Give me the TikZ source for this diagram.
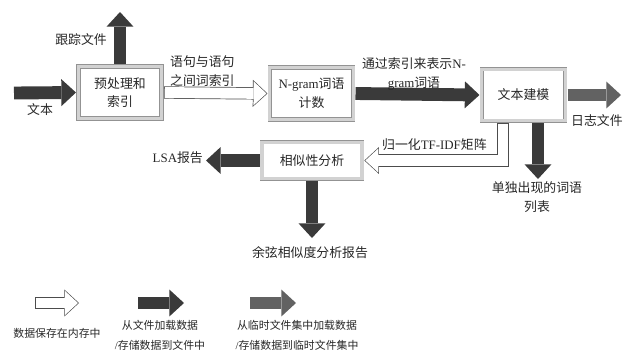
\documentclass[tikz,border=0pt]{standalone}
\usepackage{fontspec}
\setmainfont{Liberation Serif}
\newfontfamily\zhfont{Noto Sans CJK SC}
\newcommand{\en}[1]{{\rmfamily #1}}
\usetikzlibrary{arrows.meta,backgrounds,calc}
\definecolor{filegray}{HTML}{3A3A3A}
\definecolor{tempgray}{HTML}{626262}
\definecolor{textgray}{HTML}{262626}

\tikzset{
  every node/.style={text=textgray, font=\zhfont\fontsize{11}{16}\selectfont},
  legendtext/.style={font=\zhfont\fontsize{9.3}{17}\selectfont},
  procbox/.style={draw=gray!85, double=gray!35, double distance=2.6pt, line width=0.6pt,
    fill=white, minimum width=2.5cm, minimum height=1.55cm, align=center, outer sep=2pt},
  filearrow/.style={draw=filegray, line width=11pt, -{Triangle[width=23pt,length=12.5pt,line width=0pt]}},
  temparrow/.style={filearrow, draw=tempgray},
  memarrow/.style={draw=black!70, line width=10.5pt, -{Triangle[width=23pt,length=12.5pt,line width=0pt]}},
  memarrowin/.style={draw=white, line width=9.3pt, shorten >=0.87pt, shorten <=0.6pt,
    -{Triangle[width=20.4pt,length=11pt,line width=0pt]}}
}

\begin{document}
\begin{tikzpicture}[x=0.03cm, y=-0.03cm]
  \useasboundingbox (0,0) rectangle (632,356);

  % processing steps
  \node[procbox] (pre) at (120,92.5) {预处理和\\索引};
  \node[procbox] (ngram) at (311.5,93.5) {\en{N-gram}词语\\计数};
  \node[procbox] (model) at (523.5,95) {文本建模};
  \node[procbox, minimum width=3cm, minimum height=1.1cm] (sim) at (312,160.5) {相似性分析};

  % labels
  \node[anchor=east] (tracelbl) at (111,40) {跟踪文件};
  \node (textlbl) at (40,110) {文本};
  \node[anchor=west, align=left] (idxlbl) at (166,71) {语句与语句\\之间词索引};
  \node[align=center] (reprlbl) at (414,74) {通过索引来表示\en{N-}\\\en{gram}词语};
  \node[anchor=west] (loglbl) at (567,121) {日志文件};
  \node[anchor=west] (normlbl) at (378,145) {归一化\en{TF-IDF}矩阵};
  \node[align=center] (uniqlbl) at (537,197) {单独出现的词语\\列表};
  \node[anchor=east] (lsalbl) at (207,158) {\en{LSA}报告};
  \node (coslbl) at (310,253) {余弦相似度分析报告};

  % legend
  \node[legendtext] (memlbl) at (57,333) {数据保存在内存中};
  \node[legendtext, align=center] (filelbl) at (160,335) {从文件加载数据\\\en{/}存储数据到文件中};
  \node[legendtext, align=center] (templbl) at (297,335) {从临时文件集中加载数据\\\en{/}存储数据到临时文件集中};

  \coordinate (textin) at (14,93);
  \coordinate (traceend) at (120,12);
  \coordinate (logend) at (621,95);
  \coordinate (uniqend) at (538,179);
  \path (model.south) ++(-20.5,0) coordinate (normstart);
  \coordinate (lsaend) at (206,160.5);
  \coordinate (cosend) at (312,238);
  \coordinate (mema) at (35,303);
  \coordinate (memb) at (79,303);
  \coordinate (filea) at (138,303);
  \coordinate (fileb) at (184,303);
  \coordinate (tempa) at (250,303);
  \coordinate (tempb) at (296,303);

  \begin{pgfonlayer}{background}
    \draw[filearrow] (textin) -- (pre.west);
    \draw[filearrow] (pre.north) -- (traceend);
    \draw[memarrow] (pre.east) -- (ngram.west);
    \draw[memarrowin] (pre.east) -- (ngram.west);
    \draw[filearrow] (ngram.east) -- (model.west);
    \draw[temparrow] (model.east) -- (logend);
    \draw[filearrow] (model.south -| uniqend) -- (uniqend);
    \draw[memarrow] (normstart) |- (sim.east);
    \draw[memarrowin] (normstart) |- (sim.east);
    \draw[filearrow] (sim.west) -- (lsaend);
    \draw[filearrow] (sim.south) -- (cosend);
    % legend arrows
    \draw[memarrow] (mema) -- (memb);
    \draw[memarrowin] (mema) -- (memb);
    \draw[filearrow] (filea) -- (fileb);
    \draw[temparrow] (tempa) -- (tempb);
  \end{pgfonlayer}
\end{tikzpicture}
\end{document}
